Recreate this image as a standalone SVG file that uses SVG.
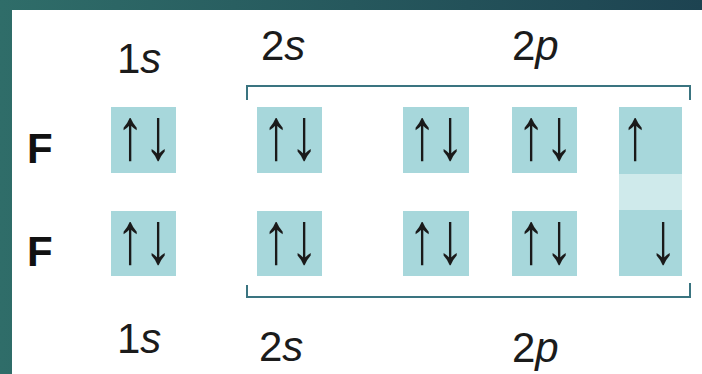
<svg xmlns="http://www.w3.org/2000/svg" width="702" height="374" viewBox="0 0 702 374">
<defs>
<linearGradient id="bg" x1="0" y1="0" x2="1" y2="0">
<stop offset="0" stop-color="#2f6d69"/>
<stop offset="1" stop-color="#1d4351"/>
</linearGradient>
</defs>
<style>
.box{fill:#a7d7db}
.band{fill:#cfeaeb}
.lbl{font-family:"Liberation Sans",Arial,sans-serif;font-size:42px;fill:#1b1b1b}
.lbl tspan.i{font-style:italic}
.atom{font-family:"Liberation Sans",Arial,sans-serif;font-size:42px;font-weight:bold;fill:#111}
.arr{font-family:"Liberation Sans",Arial,sans-serif;font-size:56px;fill:#1a1a1a;text-anchor:middle}
.br{fill:none;stroke:#3a7480;stroke-width:2}
</style>
<rect x="0" y="0" width="702" height="374" fill="url(#bg)"/>
<rect x="12" y="10" width="690" height="364" fill="#ffffff"/>

<g id="labels-top">
<text class="lbl" x="117" y="73">1<tspan class="i">s</tspan></text>
<text class="lbl" x="261" y="60">2<tspan class="i">s</tspan></text>
<text class="lbl" x="512" y="60">2<tspan class="i">p</tspan></text>
</g>
<g id="labels-bottom">
<text class="lbl" x="117" y="353">1<tspan class="i">s</tspan></text>
<text class="lbl" x="259" y="361">2<tspan class="i">s</tspan></text>
<text class="lbl" x="512" y="362">2<tspan class="i">p</tspan></text>
</g>
<g id="atom-top"><text class="atom" x="27" y="163">F</text></g>
<g id="atom-bottom"><text class="atom" x="27" y="266">F</text></g>

<g id="connectors">
<path class="br" d="M247,100 V86 H690 V100"/>
<path class="br" d="M247,285 V297 H690 V283"/>
</g>

<g id="top-1s"><rect class="box" x="111" y="107" width="65" height="66"/><text class="arr" transform="translate(144,159) scale(1,1.3)">↑↓</text></g>
<g id="top-2s"><rect class="box" x="257" y="107" width="65" height="66"/><text class="arr" transform="translate(290,159) scale(1,1.3)">↑↓</text></g>
<g id="top-2p1"><rect class="box" x="403" y="107" width="66" height="66"/><text class="arr" transform="translate(436,159) scale(1,1.3)">↑↓</text></g>
<g id="top-2p2"><rect class="box" x="512" y="107" width="65" height="66"/><text class="arr" transform="translate(545,159) scale(1,1.3)">↑↓</text></g>
<g id="shared-2p3">
<rect class="box" x="619" y="107" width="63" height="169"/>
<rect class="band" x="619" y="174" width="63" height="36"/>
<text class="arr" transform="translate(635,159) scale(1,1.3)">↑</text>
<text class="arr" transform="translate(663,263) scale(1,1.3)">↓</text>
</g>
<g id="bot-1s"><rect class="box" x="111" y="211" width="65" height="65"/><text class="arr" transform="translate(144,263) scale(1,1.3)">↑↓</text></g>
<g id="bot-2s"><rect class="box" x="257" y="211" width="65" height="65"/><text class="arr" transform="translate(290,263) scale(1,1.3)">↑↓</text></g>
<g id="bot-2p1"><rect class="box" x="403" y="211" width="66" height="65"/><text class="arr" transform="translate(436,263) scale(1,1.3)">↑↓</text></g>
<g id="bot-2p2"><rect class="box" x="512" y="211" width="65" height="65"/><text class="arr" transform="translate(545,263) scale(1,1.3)">↑↓</text></g>
</svg>
